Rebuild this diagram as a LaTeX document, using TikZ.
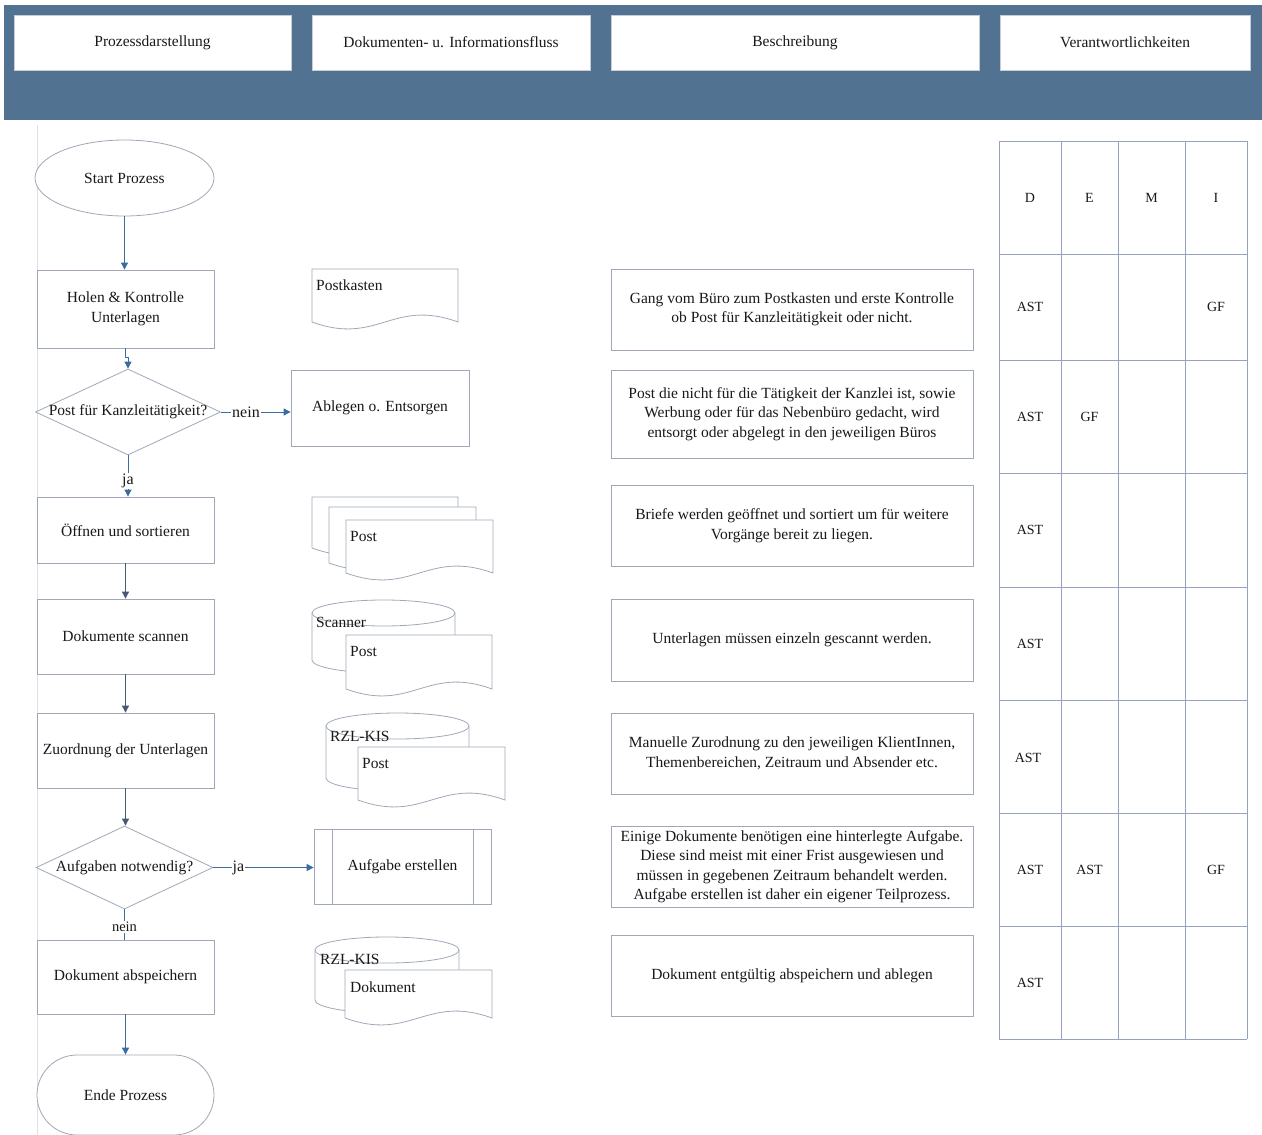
\documentclass[tikz,border=0pt]{standalone}
\usepackage{fontspec}
\setmainfont{Liberation Serif}
\usetikzlibrary{shapes.geometric,arrows.meta}

\definecolor{band}{RGB}{82,114,146}
\definecolor{hdframe}{RGB}{200,204,212}
\definecolor{frame}{RGB}{160,168,184}
\definecolor{grid}{RGB}{150,160,192}
\definecolor{flowblue}{RGB}{58,108,160}
\definecolor{flowdark}{RGB}{72,90,115}
\definecolor{ink}{RGB}{25,25,25}
\definecolor{lane}{RGB}{222,224,228}

% document symbol with a wavy lower edge: x, y (top left), width, side height
\newcommand\docsym[4]{%
  \filldraw[shp] (#1,#2) -- ({#1+#3},#2) -- ({#1+#3},{#2+#4})
    .. controls ({#1+0.55*#3},{#2+#4-24}) and ({#1+0.45*#3},{#2+#4+24}) .. (#1,{#2+#4}) -- cycle;}

% storage cylinder: x, y (top), width, height
\newcommand\cylsym[4]{%
  \filldraw[shp] (#1,{#2+13}) -- (#1,{#2+#4-13})
    arc[start angle=180,end angle=360,x radius={#3/2*1pt},y radius=13pt]
    -- ({#1+#3},{#2+13})
    arc[start angle=0,end angle=180,x radius={#3/2*1pt},y radius=13pt] -- cycle;
  \draw[shp] (#1,{#2+13}) arc[start angle=180,end angle=360,x radius={#3/2*1pt},y radius=13pt];}

\begin{document}
\begin{tikzpicture}[x=1pt,y=-1pt,
  every node/.style={text=ink,font=\fontsize{15.5}{19.5}\selectfont},
  shp/.style={draw=frame,fill=white,line width=0.8pt},
  hdbox/.style={draw=hdframe,fill=white,line width=0.8pt,minimum height=55pt,inner sep=0pt},
  procbox/.style={draw=frame,fill=white,line width=0.8pt,minimum width=177pt,align=center,inner sep=2pt},
  descbox/.style={draw=frame,fill=white,line width=0.8pt,minimum width=362pt,minimum height=81pt,align=center,inner sep=2pt},
  decision/.style={diamond,draw=frame,fill=white,line width=0.8pt,inner sep=0pt},
  lbl/.style={anchor=west,inner sep=2pt},
  cell/.style={font=\fontsize{14}{16}\selectfont,inner sep=1pt},
  arrb/.style={draw=flowblue,line width=0.9pt,-{Triangle[length=7pt,width=7pt]}},
  arrd/.style={draw=flowdark,line width=0.9pt,-{Triangle[length=7pt,width=7pt]}},
  plainline/.style={draw=flowblue,line width=0.9pt},
  edgelbl/.style={fill=white,inner sep=1pt,font=\fontsize{16}{18}\selectfont}]

\useasboundingbox (0,0) rectangle (1262,1135);
\fill[white] (0,0) rectangle (1262,1135);

% header band with column titles
\fill[band] (4,5) rectangle (1262,120);
\node[hdbox,minimum width=277pt] (h1) at (152.5,42.5) {Prozessdarstellung};
\node[hdbox,minimum width=278pt] (h2) at (451,42.5) {Dokumenten- u. Informationsfluss};
\node[hdbox,minimum width=368pt] (h3) at (795,42.5) {Beschreibung};
\node[hdbox,minimum width=250pt] (h4) at (1125,42.5) {Verantwortlichkeiten};

% lane edge
\draw[lane,line width=0.8pt] (37,125) -- (37,1135);

% process flow
\node[ellipse,draw=frame,fill=white,line width=0.8pt,minimum width=179pt,minimum height=76pt,inner sep=0pt] (start) at (124.5,178) {Start Prozess};
\node[procbox,minimum height=78pt] (holen) at (125.5,309) {Holen \& Kontrolle\\Unterlagen};
\node[decision,minimum width=185pt,minimum height=86pt] (d1) at (128,412) {};
\node (d1t) at (d1.center) {Post für Kanzleitätigkeit?};
\node[procbox,minimum width=178pt,minimum height=76pt] (abl) at (380,408) {Ablegen o. Entsorgen};
\node[procbox,minimum height=66pt] (oeff) at (125.5,530) {Öffnen und sortieren};
\node[procbox,minimum height=75pt] (scan) at (125.5,636.5) {Dokumente scannen};
\node[procbox,minimum height=75pt] (zuord) at (125.5,750.5) {Zuordnung der Unterlagen};
\node[decision,minimum width=177pt,minimum height=83pt] (d2) at (124.5,867.5) {};
\node (d2t) at (d2.center) {Aufgaben notwendig?};
\node[procbox,minimum height=74pt] (dok) at (125.5,977) {Dokument abspeichern};
\node[draw=frame,fill=white,line width=0.8pt,rounded corners=40pt,minimum width=177pt,minimum height=80pt] (ende) at (125.5,1095) {Ende Prozess};

% sub-process
\node[procbox,minimum height=75pt] (auf) at (402.5,866.5) {Aufgabe erstellen};
\draw[draw=frame,line width=0.8pt] ([xshift=19pt]auf.north west) -- ([xshift=19pt]auf.south west);
\draw[draw=frame,line width=0.8pt] ([xshift=-18pt]auf.north east) -- ([xshift=-18pt]auf.south east);

% connectors
\draw[arrb] (start.south) -- (start.south |- holen.north);
\draw[arrb] (holen.south) -- ++(0,9) -| (d1.north);
\draw[arrb] (d1.east) -- (d1.east -| abl.west) node[edgelbl,pos=0.36] (l1) {nein};
\draw[arrb] (d1.south) -- (d1.south |- oeff.north) node[edgelbl,pos=0.62] (l2) {ja};
\draw[arrd] (oeff.south) -- (scan.north);
\draw[arrd] (scan.south) -- (zuord.north);
\draw[arrd] (zuord.south) -- (zuord.south |- d2.north);
\draw[arrb] (d2.east) -- (d2.east -| auf.west) node[edgelbl,pos=0.25] (l3) {ja};
\draw[plainline] (d2.south) -- (d2.south |- dok.north) node[edgelbl,pos=0.58,font=\fontsize{14.5}{16}\selectfont] (l4) {nein};
\draw[arrb] (dok.south) -- (ende.north);

% documents and storages
\docsym{312}{269}{146}{53}
\node[lbl] (tpk) at (314,285) {Postkasten};

\docsym{312}{497}{146}{51}
\docsym{329}{507}{147}{56}
\docsym{346}{520}{147}{53}
\node[lbl] (tpost1) at (348,536) {Post};

\cylsym{312}{600}{143}{73}
\node[lbl] (tscan) at (314,622) {Scanner};
\docsym{346}{635}{146}{54}
\node[lbl] (tpost2) at (348,651) {Post};

\cylsym{326}{713}{143}{78}
\node[lbl] (trzl1) at (328,736) {RZL-KIS};
\docsym{358}{747}{147}{53}
\node[lbl] (tpost3) at (360,763) {Post};

\cylsym{315}{937}{144}{76}
\node[lbl] (trzl2) at (318,959) {RZL-KIS};
\docsym{345}{970}{147}{48}
\node[lbl] (tdoc) at (348,987) {Dokument};

% descriptions
\node[descbox] (b1) at (792,309.5) {Gang vom Büro zum Postkasten und erste Kontrolle\\ob Post für Kanzleitätigkeit oder nicht.};
\node[descbox,minimum height=88pt] (b2) at (792,414) {Post die nicht für die Tätigkeit der Kanzlei ist, sowie\\Werbung oder für das Nebenbüro gedacht, wird\\entsorgt oder abgelegt in den jeweiligen Büros};
\node[descbox] (b3) at (792,525.5) {Briefe werden geöffnet und sortiert um für weitere\\Vorgänge bereit zu liegen.};
\node[descbox,minimum height=82pt] (b4) at (792,640) {Unterlagen müssen einzeln gescannt werden.};
\node[descbox] (b5) at (792,753.5) {Manuelle Zurodnung zu den jeweiligen KlientInnen,\\Themenbereichen, Zeitraum und Absender etc.};
\node[descbox] (b6) at (792,866.5) {Einige Dokumente benötigen eine hinterlegte Aufgabe.\\Diese sind meist mit einer Frist ausgewiesen und\\müssen in gegebenen Zeitraum behandelt werden.\\Aufgabe erstellen ist daher ein eigener Teilprozess.};
\node[descbox] (b7) at (792,975.5) {Dokument entgültig abspeichern und ablegen};

% responsibility table
\foreach \cx in {999,1061,1118,1185,1247}
  \draw[grid,line width=0.8pt] (\cx,141) -- (\cx,1039);
\foreach \ry in {141,254,360,473,587,700,813,926,1039}
  \draw[grid,line width=0.8pt] (999,\ry) -- (1247,\ry);

\node[cell] (cD) at (1030,197.5) {D};
\node[cell] (cE) at (1089.5,197.5) {E};
\node[cell] (cM) at (1151.5,197.5) {M};
\node[cell] (cI) at (1216,197.5) {I};
\node[cell] (r1d) at (1030,307) {AST};
\node[cell] (r1i) at (1216,307) {GF};
\node[cell] (r2d) at (1030,416.5) {AST};
\node[cell] (r2e) at (1089.5,416.5) {GF};
\node[cell] (r3d) at (1030,530) {AST};
\node[cell] (r4d) at (1030,643.5) {AST};
\node[cell] (r5d) at (1028,758) {AST};
\node[cell] (r6d) at (1030,869.5) {AST};
\node[cell] (r6e) at (1089.5,869.5) {AST};
\node[cell] (r6i) at (1216,869.5) {GF};
\node[cell] (r7d) at (1030,982.5) {AST};
\end{tikzpicture}
\end{document}
